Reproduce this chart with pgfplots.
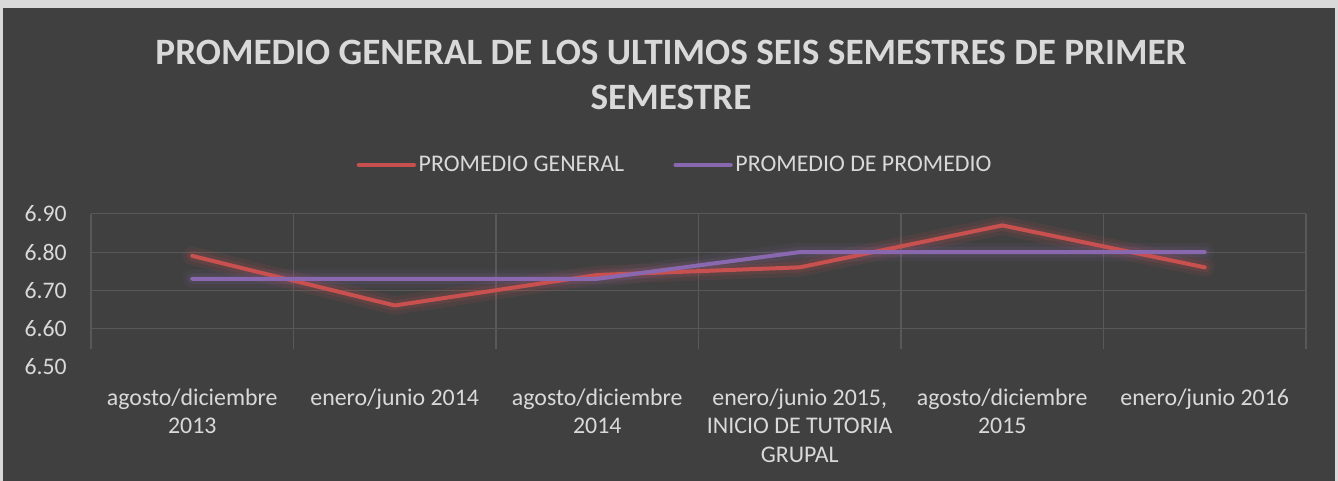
\documentclass[border=0pt]{standalone}
\usepackage{pgfplots}
\pgfplotsset{compat=1.18}
\usepackage{pgfplotstable}
\usepackage{fontspec}
\setmainfont{Carlito}
\definecolor{frame}{HTML}{D9D9D9}
\definecolor{bg}{HTML}{404040}
\definecolor{txt}{HTML}{D9D9D9}
\definecolor{gridc}{HTML}{585858}
\definecolor{rojo}{HTML}{C8504F}
\definecolor{morado}{HTML}{8A68B0}

\pgfplotstableread{
x general promedio
0 6.79 6.73
1 6.66 6.73
2 6.74 6.73
3 6.76 6.80
4 6.87 6.80
5 6.76 6.80
}\datos

\begin{document}
\begin{tikzpicture}
\fill[frame] (0pt,0pt) rectangle (1003.5pt,360.75pt);
\fill[bg] (2.25pt,0pt) rectangle (1001.25pt,354.75pt);
\node[anchor=base, text=txt, font=\fontsize{27.9}{32}\selectfont\bfseries, inner sep=0pt] at (503.25pt,312.5pt) {PROMEDIO GENERAL DE LOS ULTIMOS SEIS SEMESTRES DE PRIMER};
\node[anchor=base, text=txt, font=\fontsize{27.9}{32}\selectfont\bfseries, inner sep=0pt] at (503.25pt,278.25pt) {SEMESTRE};
\begin{axis}[
  at={(68.25pt,85.875pt)}, anchor=south west,
  scale only axis, width=911.25pt, height=114.4pt,
  xmin=-0.5, xmax=5.5, ymin=6.5, ymax=6.9,
  axis line style={draw=none},
  major tick length=0pt, minor tick length=0pt,
  tick style={draw=none},
  xtick={0,1,2,3,4,5},
  xticklabels={{agosto/diciembre\\2013},{enero/junio 2014},{agosto/diciembre\\2014},{enero/junio 2015,\\INICIO DE TUTORIA\\GRUPAL},{agosto/diciembre\\2015},{enero/junio 2016}},
  xticklabel style={align=center, anchor=north, inner sep=0pt, yshift=-16.5pt, text=txt, font=\fontsize{17.9}{21.4}\selectfont},
  ytick={6.6,6.7,6.8,6.9},
  extra y ticks={6.5},
  extra y tick style={grid=none},
  ymajorgrids,
  major grid style={gridc, line width=0.8pt},
  yticklabel style={anchor=east, inner sep=0pt, xshift=-18pt, text=txt, font=\fontsize{17.8}{22}\selectfont},
  /pgf/number format/assume math mode=true,
  yticklabel={\pgfmathprintnumber[fixed, fixed zerofill, precision=2]{\tick}},
  legend style={at={(0.481,1.321)}, anchor=center, draw=none, fill=none, text=txt,
    font=\fontsize{17.9}{22}\selectfont, legend columns=2,
    /tikz/every even column/.append style={column sep=35pt},
    nodes={inner sep=2pt}},
  legend image code/.code={\draw[#1, line width=3.5pt, line cap=round] (0pt,0pt) -- (41pt,0pt);},
  clip=false,
]
\pgfplotsinvokeforeach{-0.5,0.5,1.5,2.5,3.5,4.5,5.5}{
  \draw[gridc, line width=0.8pt] (axis cs:#1,6.545) -- (axis cs:#1,6.9);
}
\addplot[rojo, line width=14pt, opacity=0.10, line join=round, line cap=round, forget plot] table[x=x, y=general] {\datos};
\addplot[rojo, line width=8pt, opacity=0.15, line join=round, line cap=round, forget plot] table[x=x, y=general] {\datos};
\addplot[morado, line width=14pt, opacity=0.08, line join=round, line cap=round, forget plot] table[x=x, y=promedio] {\datos};
\addplot[morado, line width=8pt, opacity=0.12, line join=round, line cap=round, forget plot] table[x=x, y=promedio] {\datos};
\addplot[rojo, line width=3pt, line join=round, line cap=round, mark=none] table[x=x, y=general] {\datos};
\addlegendentry{PROMEDIO GENERAL}
\addplot[morado, line width=3pt, line join=round, line cap=round, mark=none] table[x=x, y=promedio] {\datos};
\addlegendentry{PROMEDIO DE PROMEDIO}
\end{axis}
\end{tikzpicture}
\end{document}
